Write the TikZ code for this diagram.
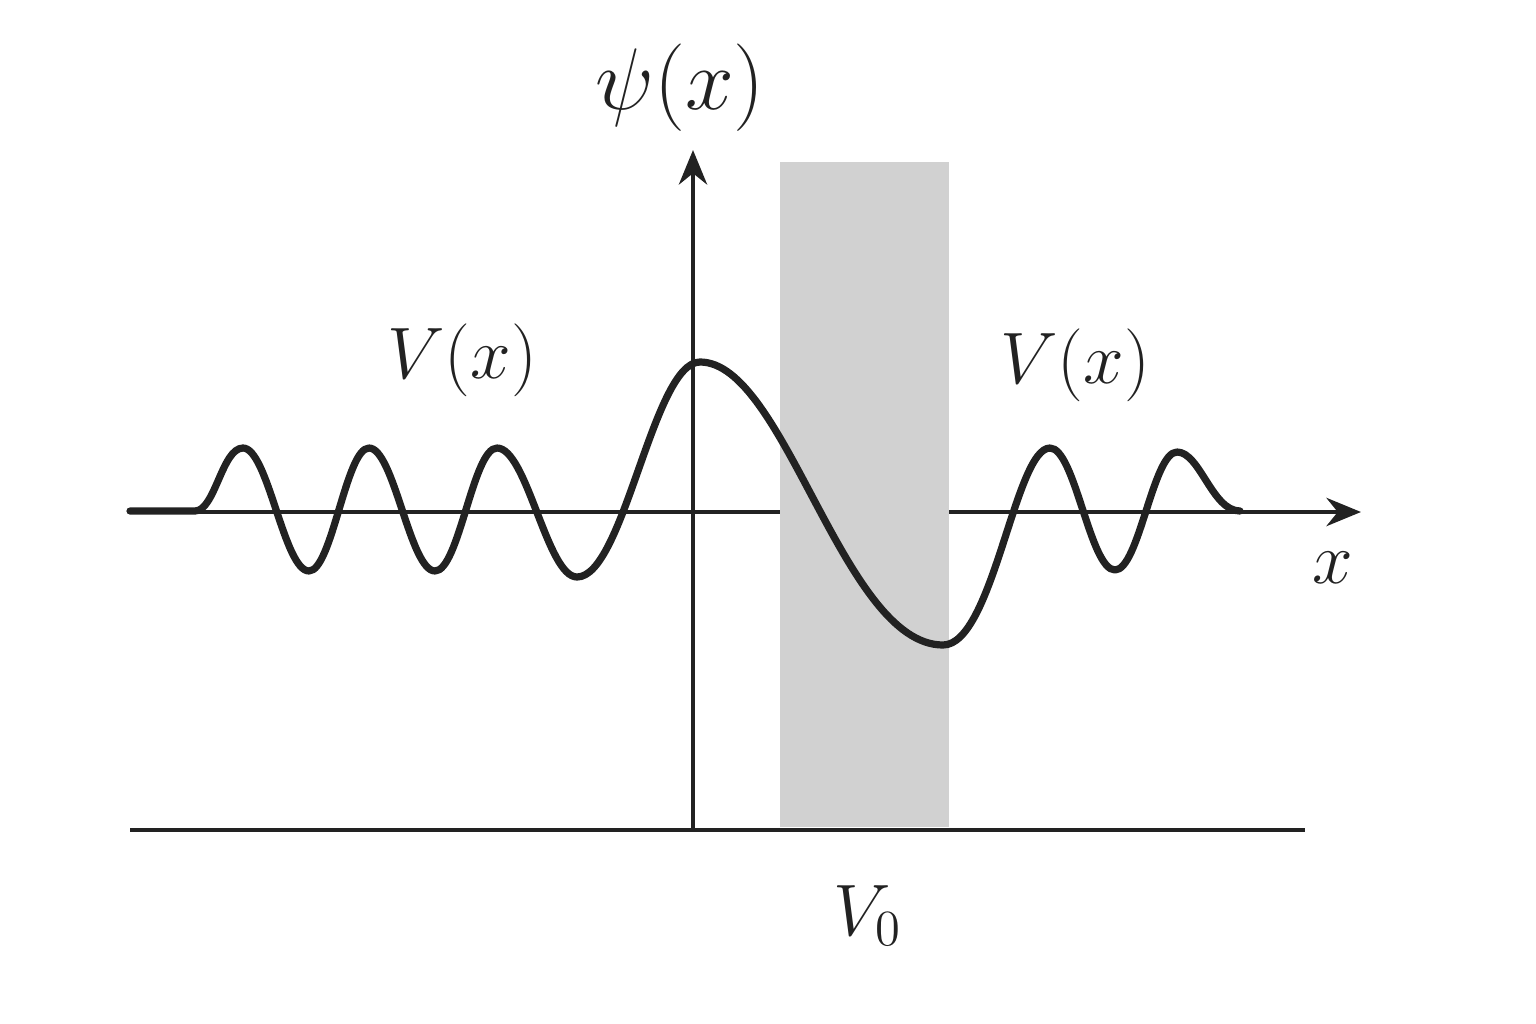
\documentclass[tikz,border=0pt]{standalone}
\usepackage{amsfonts,amsmath}
\usetikzlibrary{arrows.meta}
\definecolor{ink}{HTML}{222222}
\definecolor{barriergray}{HTML}{D1D1D1}
\tikzset{
  axis/.style={
    draw=ink, line width=1.4pt
  },
  wave/.style={
    draw=ink, line width=2.05pt,
    line cap=round, line join=round
  },
  barrier/.style={
    fill=barriergray, draw=none
  },
  lbl/.style={
    text=ink, inner sep=0pt,
    font=\fontsize{21.5}{26}\selectfont
  }
}

\begin{document}
\begin{tikzpicture}[x=0.01cm, y=-0.01cm, >={Stealth[length=9.8pt,width=8pt]}]
          \useasboundingbox (0,0) rectangle (1536,1024);
          \coordinate (O) at (693,512);
          \coordinate (xstart) at (130,512);
          \coordinate (xend) at (1361,512);
          \coordinate (ybot) at (693,830);
          \coordinate (ytop) at (693,150);
          \coordinate (gleft) at (130,830);
          \coordinate (gright) at (1305,830);

          % axes and ground line
          \draw[axis, ->] (xstart) -- (xend);
          \draw[axis, ->] (ybot) -- (ytop);
          \draw[axis] (gleft) -- (gright);

          % the barrier
          \path[barrier] (780,162) rectangle (949,827);

          % wave function
          \draw[wave] (130,511) -- (195,511)
            .. controls (215,511) and (222,448) .. (243,448)
            .. controls (268,448) and (284,571) .. (309,571)
            .. controls (332,571) and (346,448) .. (369,448)
            .. controls (394,448) and (410,571) .. (435,571)
            .. controls (459,571) and (473,448) .. (497,448)
            .. controls (527,448) and (547,577) .. (577,577)
            .. controls (624,577) and (653,362) .. (700,362)
            .. controls (785,362) and (843,645) .. (943,645)
            .. controls (993,645) and (1015,448) .. (1050,448)
            .. controls (1075,448) and (1090,570) .. (1115,570)
            .. controls (1139,570) and (1153,452) .. (1177,452)
            .. controls (1200,452) and (1212,511) .. (1240,511);

          % labels
          \node[lbl, font=\fontsize{24}{28}\selectfont] (psi) at (680,88) {$\psi(x)$};
          \node[lbl] (Vleft) at (462,360) {$V(x)$};
          \node[lbl] (Vright) at (1075,365) {$V(x)$};
          \node[lbl] (xlab) at (1333,568) {$x$};
          \node[lbl, anchor=base] (Vzero) at (868,935) {$V_0$};
        \end{tikzpicture}
\end{document}
